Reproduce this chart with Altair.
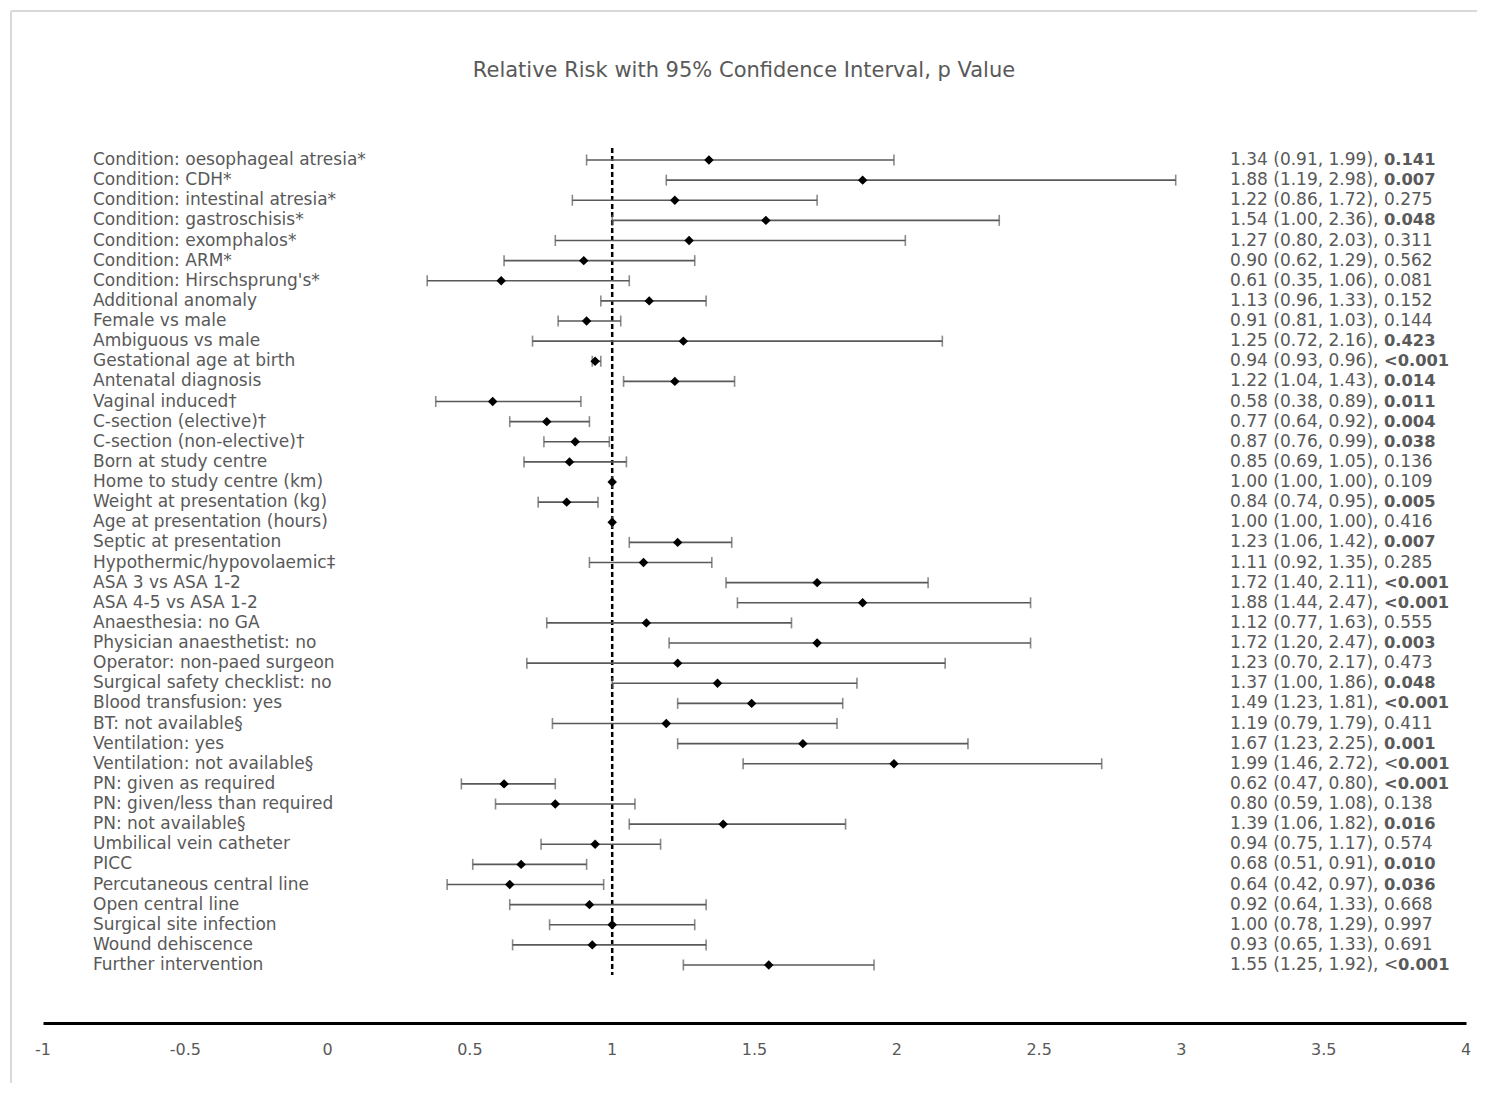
import altair as alt
import pandas as pd

TITLE = "Relative Risk with 95% Confidence Interval, p Value"

labels = [
    "Condition: oesophageal atresia*", "Condition: CDH*", "Condition: intestinal atresia*",
    "Condition: gastroschisis*", "Condition: exomphalos*", "Condition: ARM*",
    "Condition: Hirschsprung's*", "Additional anomaly", "Female vs male", "Ambiguous vs male",
    "Gestational age at birth", "Antenatal diagnosis", "Vaginal induced\u2020",
    "C-section (elective)\u2020", "C-section (non-elective)\u2020", "Born at study centre",
    "Home to study centre (km)", "Weight at presentation (kg)", "Age at presentation (hours)",
    "Septic at presentation", "Hypothermic/hypovolaemic\u2021", "ASA 3 vs ASA 1-2",
    "ASA 4-5 vs ASA 1-2", "Anaesthesia: no GA", "Physician anaesthetist: no",
    "Operator: non-paed surgeon", "Surgical safety checklist: no", "Blood transfusion: yes",
    "BT: not available\u00a7", "Ventilation: yes", "Ventilation: not available\u00a7",
    "PN: given as required", "PN: given/less than required", "PN: not available\u00a7",
    "Umbilical vein catheter", "PICC", "Percutaneous central line", "Open central line",
    "Surgical site infection", "Wound dehiscence", "Further intervention",
]
rr = [1.34, 1.88, 1.22, 1.54, 1.27, 0.90, 0.61, 1.13, 0.91, 1.25, 0.94, 1.22, 0.58, 0.77,
      0.87, 0.85, 1.00, 0.84, 1.00, 1.23, 1.11, 1.72, 1.88, 1.12, 1.72, 1.23, 1.37, 1.49,
      1.19, 1.67, 1.99, 0.62, 0.80, 1.39, 0.94, 0.68, 0.64, 0.92, 1.00, 0.93, 1.55]
lo = [0.91, 1.19, 0.86, 1.00, 0.80, 0.62, 0.35, 0.96, 0.81, 0.72, 0.93, 1.04, 0.38, 0.64,
      0.76, 0.69, 1.00, 0.74, 1.00, 1.06, 0.92, 1.40, 1.44, 0.77, 1.20, 0.70, 1.00, 1.23,
      0.79, 1.23, 1.46, 0.47, 0.59, 1.06, 0.75, 0.51, 0.42, 0.64, 0.78, 0.65, 1.25]
hi = [1.99, 2.98, 1.72, 2.36, 2.03, 1.29, 1.06, 1.33, 1.03, 2.16, 0.96, 1.43, 0.89, 0.92,
      0.99, 1.05, 1.00, 0.95, 1.00, 1.42, 1.35, 2.11, 2.47, 1.63, 2.47, 2.17, 1.86, 1.81,
      1.79, 2.25, 2.72, 0.80, 1.08, 1.82, 1.17, 0.91, 0.97, 1.33, 1.29, 1.33, 1.92]
pvals = ["0.141", "0.007", "0.275", "0.048", "0.311", "0.562", "0.081", "0.152", "0.144",
         "0.423", "<0.001", "0.014", "0.011", "0.004", "0.038", "0.136", "0.109", "0.005",
         "0.416", "0.007", "0.285", "<0.001", "<0.001", "0.555", "0.003", "0.473", "0.048",
         "<0.001", "0.411", "0.001", "<0.001", "<0.001", "0.138", "0.016", "0.574", "0.010",
         "0.036", "0.668", "0.997", "0.691", "<0.001"]
# b = bold, n = normal, ltn = "<" normal and number bold
pstyle = ["b", "b", "n", "b", "n", "n", "n", "n", "n", "b", "b", "b", "b", "b", "b", "n",
          "n", "b", "n", "b", "n", "b", "b", "n", "b", "n", "b", "b", "n", "b", "ltn", "b",
          "n", "b", "n", "b", "b", "n", "n", "n", "ltn"]

tick_values = [-1, -0.5, 0, 0.5, 1, 1.5, 2, 2.5, 3, 3.5, 4]
tick_labels = ["-1", "-0.5", "0", "0.5", "1", "1.5", "2", "2.5", "3", "3.5", "4"]

rows = []
for i in range(len(labels)):
    st = pstyle[i]
    p = pvals[i]
    rows.append(dict(
        row=i, label=labels[i], rr=rr[i], lo=lo[i], hi=hi[i],
        prefix=f"{rr[i]:.2f} ({lo[i]:.2f}, {hi[i]:.2f}), ",
        p_norm=(p if st == "n" else ("<" if st == "ltn" else "")),
        p_bold=(p if st == "b" else (p.lstrip("<") if st == "ltn" else "")),
        shift=(st == "ltn"),
    ))
df = pd.DataFrame(rows)
ticks_df = pd.DataFrame({"v": tick_values, "lab": tick_labels})

W, H = 1423, 1012
FONT = "DejaVu Sans"
FS = 17
GRAY = "#595959"

xs = alt.Scale(domain=[-1, 4], nice=False, zero=False)
ys = alt.Scale(domain=[-7.404, 42.882], nice=False, zero=False, reverse=True)

base = alt.Chart(df)
X = lambda f: alt.X(f, type="quantitative", scale=xs,
                    axis=alt.Axis(labels=False, ticks=False, grid=False, title=None,
                                  domainColor="black", domainWidth=3))
Y = alt.Y("row:Q", scale=ys, axis=None)

ci = base.mark_rule(color=GRAY, strokeWidth=1.6).encode(x=X("lo"), x2="hi", y=Y)
cap_lo = base.mark_tick(color=GRAY, orient="vertical", size=11, thickness=1.6).encode(x=X("lo"), y=Y)
cap_hi = base.mark_tick(color=GRAY, orient="vertical", size=11, thickness=1.6).encode(x=X("hi"), y=Y)
pts = base.mark_point(shape="diamond", filled=True, color="black", size=90, opacity=1).encode(x=X("rr"), y=Y)

ref = alt.Chart(pd.DataFrame({"v": [1]})).mark_rule(
    color="black", strokeWidth=2.5, strokeDash=[5, 3]
).encode(x=X("v"), y=alt.value(137), y2=alt.value(964))

txt_kw = dict(font=FONT, fontSize=FS, color=GRAY, baseline="middle", align="left")
bold_kw = dict(txt_kw, fontSize=16.3, fontWeight="bold")
lab = base.mark_text(**txt_kw).encode(x=alt.value(50), y=Y, text="label")
pre = base.mark_text(**txt_kw).encode(x=alt.value(1187), y=Y, text="prefix")
pn = base.mark_text(**txt_kw).encode(x=alt.value(1341), y=Y, text="p_norm")
pb = base.transform_filter("!datum.shift").mark_text(**bold_kw).encode(
    x=alt.value(1341), y=Y, text="p_bold")
pbs = base.transform_filter("datum.shift").mark_text(**bold_kw).encode(
    x=alt.value(1355), y=Y, text="p_bold")

tick_txt = alt.Chart(ticks_df).mark_text(
    font=FONT, fontSize=16, color=GRAY, baseline="middle", align="center"
).encode(x=X("v"), y=alt.value(1039), text="lab")

title_txt = alt.Chart(pd.DataFrame({"t": [TITLE]})).mark_text(
    font=FONT, fontSize=21, color=GRAY, baseline="middle", align="center"
).encode(x=alt.value(701), y=alt.value(60), text="t")

border_top = alt.Chart(pd.DataFrame({"a": [0]})).mark_rule(color="#d9d9d9", strokeWidth=2).encode(
    x=alt.value(-32), x2=alt.value(1440), y=alt.value(0))
border_left = alt.Chart(pd.DataFrame({"a": [0]})).mark_rule(color="#d9d9d9", strokeWidth=2).encode(
    x=alt.value(-32), y=alt.value(0), y2=alt.value(1080))

chart = alt.layer(
    border_top, border_left, ref, ci, cap_lo, cap_hi, pts, lab, pre, pn, pb, pbs, tick_txt, title_txt
).properties(
    width=W, height=H,
    autosize=alt.AutoSizeParams(type="none"),
    padding={"left": 35, "top": 3, "right": 11, "bottom": 60},
).configure_view(stroke=None)

chart.save("out.html", embed_options={"renderer": "svg", "actions": False})
